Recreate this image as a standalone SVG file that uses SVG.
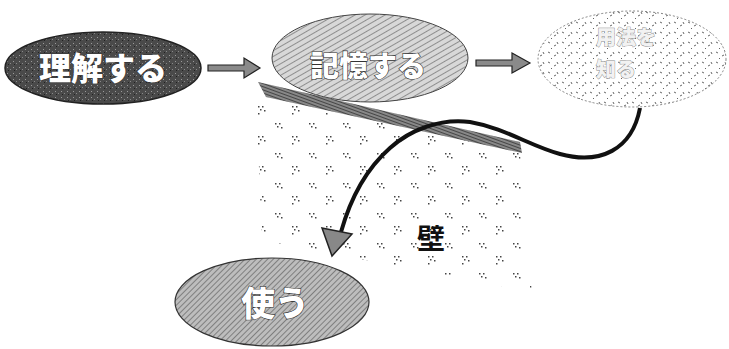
<svg xmlns="http://www.w3.org/2000/svg" width="729" height="349" viewBox="0 0 729 349">
<style>
.lbl{font-family:"Noto Sans CJK JP","Noto Sans CJK SC",sans-serif;font-weight:900;fill:#fff;stroke:#333;stroke-width:1.2;paint-order:stroke;text-anchor:middle}
.faint{fill:#f2f2f2;stroke:#888;stroke-width:0.8}
.wall{font-family:"Noto Sans CJK JP",sans-serif;font-weight:700;fill:#111;text-anchor:middle}
.arr{fill:#8a8a8a;stroke:#222;stroke-width:1.2}
</style>
<defs>
<pattern id="pDark" width="6" height="6" patternUnits="userSpaceOnUse">
<rect width="6" height="6" fill="#4a4a4a"/>
<rect x="1" y="1" width="1" height="1" fill="#9a9a9a"/>
<rect x="4" y="3" width="1" height="1" fill="#888"/>
<rect x="2" y="4" width="1" height="1" fill="#222"/>
</pattern>
<pattern id="pHatch" width="5" height="5" patternUnits="userSpaceOnUse" patternTransform="rotate(60)">
<rect width="5" height="5" fill="#d8d8d8"/>
<line x1="0" y1="0" x2="0" y2="5" stroke="#666" stroke-width="1.3"/>
</pattern>
<pattern id="pMid" width="4" height="4" patternUnits="userSpaceOnUse" patternTransform="rotate(45)">
<rect width="4" height="4" fill="#bdbdbd"/>
<line x1="0" y1="0" x2="0" y2="4" stroke="#555" stroke-width="1.2"/>
</pattern>
<pattern id="pLight" width="14" height="10" patternUnits="userSpaceOnUse">
<rect width="14" height="10" fill="#fff"/>
<path d="M2 2l2 1M8 6l2-1M5 8l1 1M11 2l1 2" stroke="#555" stroke-width="0.9"/>
</pattern>
<pattern id="pBand" width="3" height="3" patternUnits="userSpaceOnUse" patternTransform="rotate(20)">
<rect width="3" height="3" fill="#888"/>
<line x1="0" y1="0" x2="3" y2="0" stroke="#222" stroke-width="1.3"/>
</pattern>
<pattern id="pWall" width="34" height="30" patternUnits="userSpaceOnUse">
<rect width="34" height="30" fill="#fff"/>
<g fill="#444">
<rect x="3" y="3" width="1.5" height="1.5"/><rect x="7" y="3" width="1.5" height="1.5"/><rect x="5" y="6" width="1.5" height="1.5"/><rect x="9" y="7" width="1.5" height="1.5"/>
<rect x="20" y="16" width="1.5" height="1.5"/><rect x="24" y="16" width="1.5" height="1.5"/><rect x="22" y="19" width="1.5" height="1.5"/><rect x="26" y="20" width="1.5" height="1.5"/><rect x="20" y="23" width="1.5" height="1.5"/>
</g>
</pattern>
</defs>

<g id="wall">
<polygon points="256,96 520,152 532,292 262,240" fill="url(#pWall)"/>
<polygon points="258,82 520,142 522,153 266,97" fill="url(#pBand)"/>
<text class="wall" x="431" y="249" font-size="28">壁</text>
</g>

<g id="node1">
<ellipse cx="103" cy="68" rx="98" ry="36" fill="url(#pDark)" stroke="#222" stroke-width="1.5"/>
<text class="lbl" x="103" y="80" font-size="32">理解する</text>
</g>
<g id="node2">
<ellipse cx="370" cy="58" rx="98" ry="44" fill="url(#pHatch)" stroke="#444" stroke-width="1"/>
<text class="lbl" x="368" y="77" font-size="29">記憶する</text>
</g>
<g id="node3">
<ellipse cx="632" cy="59" rx="94" ry="48" fill="url(#pLight)" stroke="#666" stroke-width="0.8" stroke-dasharray="2 2"/>
<text class="lbl faint" x="626" y="45" font-size="20">用法を</text>
<text class="lbl faint" x="616" y="77" font-size="20">知る</text>
</g>
<g id="node4">
<ellipse cx="272" cy="302" rx="97" ry="44" fill="url(#pMid)" stroke="#333" stroke-width="1.2"/>
<text class="lbl" x="275" y="316" font-size="34">使う</text>
</g>

<g id="connectors">
<polygon class="arr" points="208,65 244,65 244,58 260,68 244,78 244,71 208,71"/>
<polygon class="arr" points="476,60 512,60 512,53 530,63 512,73 512,66 476,66"/>
<path d="M640,108 C632,150 600,165 560,154 C530,146 505,128 470,122 C440,118 410,130 390,148 C365,170 350,200 341,232" fill="none" stroke="#111" stroke-width="4"/>
<polygon points="322,228 352,234 332,256" fill="#888" stroke="#222" stroke-width="1.5"/>
</g>
</svg>
